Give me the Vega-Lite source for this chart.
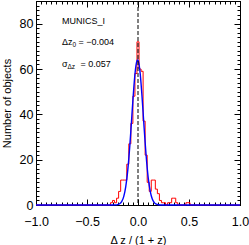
{
  "$schema": "https://vega.github.io/schema/vega-lite/v6.json",
  "width": 204,
  "height": 204,
  "autosize": {"type": "none"},
  "padding": {"left": 36, "top": 1, "right": 9, "bottom": 40},
  "background": "white",
  "config": {
    "view": {"stroke": "black", "strokeWidth": 1},
    "font": "Liberation Sans",
    "axis": {
      "grid": false,
      "domainColor": "black",
      "tickColor": "black",
      "labelColor": "black",
      "titleColor": "black",
      "labelFont": "Liberation Sans",
      "titleFont": "Liberation Sans",
      "titleFontWeight": "normal",
      "labelOverlap": false,
      "labelFlush": false,
      "labelBound": false
    }
  },
  "datasets": {
    "hist": [
      {"dz": -1.0, "n": 0}, {"dz": -0.30, "n": 0}, {"dz": -0.28, "n": 0},
      {"dz": -0.26, "n": 1}, {"dz": -0.24, "n": 2}, {"dz": -0.22, "n": 1},
      {"dz": -0.20, "n": 3}, {"dz": -0.18, "n": 6}, {"dz": -0.16, "n": 11},
      {"dz": -0.14, "n": 11}, {"dz": -0.12, "n": 11}, {"dz": -0.10, "n": 18},
      {"dz": -0.08, "n": 27}, {"dz": -0.06, "n": 36}, {"dz": -0.04, "n": 48},
      {"dz": -0.02, "n": 58}, {"dz": 0.00, "n": 72}, {"dz": 0.02, "n": 60},
      {"dz": 0.04, "n": 59}, {"dz": 0.06, "n": 37}, {"dz": 0.08, "n": 22},
      {"dz": 0.10, "n": 10}, {"dz": 0.12, "n": 6}, {"dz": 0.14, "n": 11},
      {"dz": 0.16, "n": 11}, {"dz": 0.18, "n": 7}, {"dz": 0.20, "n": 5},
      {"dz": 0.22, "n": 2}, {"dz": 0.24, "n": 1}, {"dz": 0.26, "n": 1},
      {"dz": 0.28, "n": 0}, {"dz": 0.30, "n": 1}, {"dz": 0.32, "n": 1},
      {"dz": 0.34, "n": 3}, {"dz": 0.36, "n": 3}, {"dz": 0.38, "n": 1},
      {"dz": 0.40, "n": 0}, {"dz": 0.42, "n": 0}, {"dz": 0.44, "n": 0},
      {"dz": 0.46, "n": 0}, {"dz": 0.48, "n": 1}, {"dz": 0.50, "n": 1},
      {"dz": 0.52, "n": 0}, {"dz": 1.0, "n": 0}
    ],
    "gauss": [
      {"dz": -1.0, "n": 0}, {"dz": -0.30, "n": 0}, {"dz": -0.25, "n": 0.006},
      {"dz": -0.22, "n": 0.05}, {"dz": -0.20, "n": 0.17}, {"dz": -0.18, "n": 0.54},
      {"dz": -0.16, "n": 1.51}, {"dz": -0.14, "n": 3.72}, {"dz": -0.12, "n": 8.07},
      {"dz": -0.10, "n": 15.5}, {"dz": -0.08, "n": 26.3}, {"dz": -0.07, "n": 32.7},
      {"dz": -0.06, "n": 39.5}, {"dz": -0.05, "n": 46.2}, {"dz": -0.04, "n": 52.4},
      {"dz": -0.03, "n": 57.7}, {"dz": -0.02, "n": 61.5}, {"dz": -0.01, "n": 63.6},
      {"dz": -0.004, "n": 64.0}, {"dz": 0.00, "n": 63.9}, {"dz": 0.01, "n": 62.1},
      {"dz": 0.02, "n": 58.6}, {"dz": 0.03, "n": 53.6}, {"dz": 0.04, "n": 47.5},
      {"dz": 0.05, "n": 40.9}, {"dz": 0.06, "n": 34.1}, {"dz": 0.07, "n": 27.6},
      {"dz": 0.08, "n": 21.6}, {"dz": 0.10, "n": 12.1}, {"dz": 0.12, "n": 6.0},
      {"dz": 0.14, "n": 2.63}, {"dz": 0.16, "n": 1.02}, {"dz": 0.18, "n": 0.35},
      {"dz": 0.20, "n": 0.11}, {"dz": 0.22, "n": 0.03}, {"dz": 0.25, "n": 0},
      {"dz": 1.0, "n": 0}
    ],
    "notes": [
      {"part": "main", "dz": -0.745, "n": 80.0, "t": "MUNICS_I"},
      {"part": "main", "dz": -0.745, "n": 70.6, "t": "Δz"},
      {"part": "sub1", "dz": -0.745, "n": 70.6, "t": "0"},
      {"part": "rest1", "dz": -0.745, "n": 70.6, "t": "= −0.004"},
      {"part": "main", "dz": -0.745, "n": 60.7, "t": "σ"},
      {"part": "sub2", "dz": -0.745, "n": 60.7, "t": "Δz"},
      {"part": "rest2", "dz": -0.745, "n": 60.7, "t": "= 0.057"}
    ]
  },
  "resolve": {"axis": {"x": "independent", "y": "independent"}},
  "layer": [
    {
      "data": {"name": "hist"},
      "mark": {"type": "line", "interpolate": "step", "color": "#ff0000", "strokeWidth": 1},
      "encoding": {
        "x": {
          "field": "dz", "type": "quantitative",
          "scale": {"domain": [-1, 1], "nice": false, "zero": false},
          "axis": {
            "orient": "bottom",
            "values": [-1,-0.95,-0.9,-0.85,-0.8,-0.75,-0.7,-0.65,-0.6,-0.55,-0.5,-0.45,-0.4,-0.35,-0.3,-0.25,-0.2,-0.15,-0.1,-0.05,0,0.05,0.1,0.15,0.2,0.25,0.3,0.35,0.4,0.45,0.5,0.55,0.6,0.65,0.7,0.75,0.8,0.85,0.9,0.95,1],
            "tickSize": {"condition": {"test": "abs(datum.value*2 - round(datum.value*2)) < 0.001", "value": -6}, "value": -3},
            "labelExpr": "abs(datum.value*2 - round(datum.value*2)) < 0.001 ? format(datum.value, '.1f') : ''",
            "labelFontSize": 12.5,
            "labelPadding": 16,
            "title": "Δ z / (1 + z)",
            "titleFontSize": 11,
            "titlePadding": 4
          }
        },
        "y": {
          "field": "n", "type": "quantitative",
          "scale": {"domain": [0, 90], "nice": false, "zero": true},
          "axis": {
            "orient": "left",
            "values": [0,2,4,6,8,10,12,14,16,18,20,22,24,26,28,30,32,34,36,38,40,42,44,46,48,50,52,54,56,58,60,62,64,66,68,70,72,74,76,78,80,82,84,86,88,90],
            "tickSize": {"condition": {"test": "datum.value % 20 == 0", "value": -6}, "value": -3},
            "labelExpr": "datum.value % 20 == 0 ? format(datum.value, 'd') : ''",
            "labelFontSize": 12.5,
            "labelPadding": 9,
            "title": "Number of objects",
            "titleFontSize": 11,
            "titlePadding": 7
          }
        }
      }
    },
    {
      "data": {"name": "gauss"},
      "mark": {"type": "line", "interpolate": "monotone", "color": "#0000ff", "strokeWidth": 1.4},
      "encoding": {
        "x": {
          "field": "dz", "type": "quantitative",
          "scale": {"domain": [-1, 1], "nice": false, "zero": false},
          "axis": {
            "orient": "top",
            "values": [-1,-0.95,-0.9,-0.85,-0.8,-0.75,-0.7,-0.65,-0.6,-0.55,-0.5,-0.45,-0.4,-0.35,-0.3,-0.25,-0.2,-0.15,-0.1,-0.05,0,0.05,0.1,0.15,0.2,0.25,0.3,0.35,0.4,0.45,0.5,0.55,0.6,0.65,0.7,0.75,0.8,0.85,0.9,0.95,1],
            "tickSize": {"condition": {"test": "abs(datum.value*2 - round(datum.value*2)) < 0.001", "value": -6}, "value": -3},
            "labels": false,
            "title": null
          }
        },
        "y": {
          "field": "n", "type": "quantitative",
          "scale": {"domain": [0, 90], "nice": false, "zero": true},
          "axis": {
            "orient": "right",
            "values": [0,2,4,6,8,10,12,14,16,18,20,22,24,26,28,30,32,34,36,38,40,42,44,46,48,50,52,54,56,58,60,62,64,66,68,70,72,74,76,78,80,82,84,86,88,90],
            "tickSize": {"condition": {"test": "datum.value % 20 == 0", "value": -6}, "value": -3},
            "labels": false,
            "title": null
          }
        }
      }
    },
    {
      "data": {"values": [{"dz": 0}]},
      "mark": {"type": "rule", "color": "black", "strokeWidth": 1, "strokeDash": [4, 2]},
      "encoding": {
        "x": {"field": "dz", "type": "quantitative", "scale": {"domain": [-1, 1], "nice": false, "zero": false}, "axis": null}
      }
    },
    {
      "data": {"name": "notes"},
      "transform": [{"filter": "datum.part == 'main'"}],
      "mark": {"type": "text", "align": "left", "baseline": "alphabetic", "fontSize": 9, "color": "black", "font": "Liberation Sans"},
      "encoding": {
        "x": {"field": "dz", "type": "quantitative", "scale": {"domain": [-1, 1], "nice": false, "zero": false}, "axis": null},
        "y": {"field": "n", "type": "quantitative", "scale": {"domain": [0, 90], "nice": false, "zero": true}, "axis": null},
        "text": {"field": "t"}
      }
    },
    {
      "data": {"name": "notes"},
      "transform": [{"filter": "datum.part == 'sub1'"}],
      "mark": {"type": "text", "align": "left", "baseline": "alphabetic", "fontSize": 6.5, "dx": 10.5, "dy": 2, "color": "black", "font": "Liberation Sans"},
      "encoding": {
        "x": {"field": "dz", "type": "quantitative", "scale": {"domain": [-1, 1], "nice": false, "zero": false}, "axis": null},
        "y": {"field": "n", "type": "quantitative", "scale": {"domain": [0, 90], "nice": false, "zero": true}, "axis": null},
        "text": {"field": "t"}
      }
    },
    {
      "data": {"name": "notes"},
      "transform": [{"filter": "datum.part == 'rest1'"}],
      "mark": {"type": "text", "align": "left", "baseline": "alphabetic", "fontSize": 9, "dx": 16.5, "color": "black", "font": "Liberation Sans"},
      "encoding": {
        "x": {"field": "dz", "type": "quantitative", "scale": {"domain": [-1, 1], "nice": false, "zero": false}, "axis": null},
        "y": {"field": "n", "type": "quantitative", "scale": {"domain": [0, 90], "nice": false, "zero": true}, "axis": null},
        "text": {"field": "t"}
      }
    },
    {
      "data": {"name": "notes"},
      "transform": [{"filter": "datum.part == 'sub2'"}],
      "mark": {"type": "text", "align": "left", "baseline": "alphabetic", "fontSize": 6.5, "dx": 5.5, "dy": 2, "color": "black", "font": "Liberation Sans"},
      "encoding": {
        "x": {"field": "dz", "type": "quantitative", "scale": {"domain": [-1, 1], "nice": false, "zero": false}, "axis": null},
        "y": {"field": "n", "type": "quantitative", "scale": {"domain": [0, 90], "nice": false, "zero": true}, "axis": null},
        "text": {"field": "t"}
      }
    },
    {
      "data": {"name": "notes"},
      "transform": [{"filter": "datum.part == 'rest2'"}],
      "mark": {"type": "text", "align": "left", "baseline": "alphabetic", "fontSize": 9, "dx": 18.5, "color": "black", "font": "Liberation Sans"},
      "encoding": {
        "x": {"field": "dz", "type": "quantitative", "scale": {"domain": [-1, 1], "nice": false, "zero": false}, "axis": null},
        "y": {"field": "n", "type": "quantitative", "scale": {"domain": [0, 90], "nice": false, "zero": true}, "axis": null},
        "text": {"field": "t"}
      }
    }
  ]
}
